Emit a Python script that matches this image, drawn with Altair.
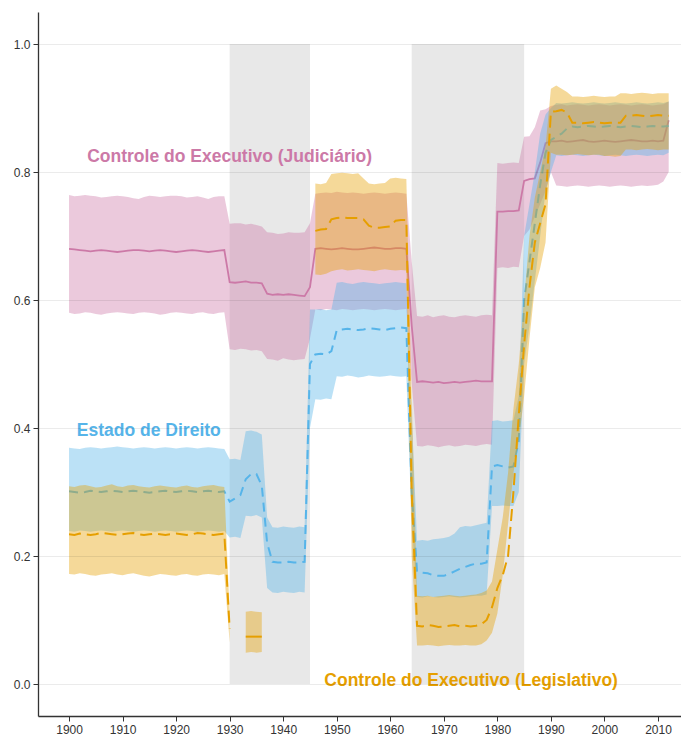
import altair as alt
import pandas as pd

years = list(range(1900, 2013))
tick_years = [1900, 1910, 1920, 1930, 1940, 1950, 1960, 1970, 1980, 1990, 2000, 2010]
tick_vals = [0.0, 0.2, 0.4, 0.6, 0.8, 1.0]

# periods shaded (authoritarian periods)
shade_start = [1930, 1964]
shade_end = [1945, 1985]

# ---- Controle do Executivo (Judiciário) ----
jud_mean = ([0.680, 0.679, 0.678, 0.677, 0.676, 0.677, 0.678, 0.677, 0.676, 0.675,
             0.676, 0.677, 0.678, 0.678, 0.677, 0.676, 0.677, 0.678, 0.677, 0.676,
             0.675, 0.676, 0.677, 0.678, 0.677, 0.676, 0.675, 0.676, 0.677, 0.678]
            + [0.628, 0.627, 0.628, 0.629, 0.627, 0.627, 0.626, 0.610, 0.608, 0.609,
               0.608, 0.609, 0.608, 0.607, 0.606, 0.620]
            + [0.680, 0.681, 0.680, 0.679, 0.680, 0.681, 0.680, 0.679, 0.679, 0.680,
               0.681, 0.682, 0.681, 0.680, 0.680, 0.681, 0.681, 0.680]
            + [0.560]
            + [0.472, 0.473, 0.472, 0.471, 0.472, 0.470, 0.471, 0.472, 0.471, 0.472,
               0.473, 0.474, 0.473, 0.473, 0.473]
            + [0.738, 0.738, 0.739, 0.739, 0.740, 0.786, 0.789, 0.790, 0.815, 0.845, 0.848]
            + [0.848, 0.849, 0.847, 0.848, 0.849, 0.850, 0.848, 0.847, 0.848, 0.849,
               0.848, 0.847, 0.848, 0.849, 0.850, 0.849, 0.848, 0.848, 0.849, 0.848, 0.849]
            + [0.881])
jud_hi = ([0.764, 0.762, 0.763, 0.764, 0.763, 0.762, 0.760, 0.761, 0.762, 0.763,
           0.762, 0.761, 0.759, 0.758, 0.761, 0.763, 0.762, 0.761, 0.762, 0.763,
           0.763, 0.762, 0.760, 0.761, 0.762, 0.760, 0.758, 0.761, 0.762, 0.762]
          + [0.719, 0.720, 0.720, 0.718, 0.719, 0.717, 0.715, 0.706, 0.705, 0.703,
             0.704, 0.706, 0.705, 0.705, 0.706, 0.720]
          + [0.766, 0.767, 0.768, 0.767, 0.769, 0.768, 0.767, 0.768, 0.767, 0.766,
             0.767, 0.768, 0.767, 0.766, 0.767, 0.768, 0.767, 0.766]
          + [0.660]
          + [0.575, 0.574, 0.576, 0.573, 0.575, 0.576, 0.574, 0.573, 0.575, 0.576,
             0.575, 0.574, 0.576, 0.577, 0.576]
          + [0.814, 0.813, 0.814, 0.815, 0.814, 0.855, 0.856, 0.870, 0.896, 0.898, 0.903]
          + [0.905, 0.906, 0.904, 0.905, 0.906, 0.905, 0.904, 0.905, 0.906, 0.905,
             0.904, 0.905, 0.906, 0.905, 0.904, 0.905, 0.906, 0.905, 0.904, 0.905, 0.906]
          + [0.910])
jud_lo = ([0.580, 0.578, 0.579, 0.581, 0.580, 0.578, 0.577, 0.579, 0.580, 0.581,
           0.580, 0.579, 0.578, 0.580, 0.581, 0.580, 0.579, 0.577, 0.578, 0.580,
           0.581, 0.580, 0.579, 0.578, 0.580, 0.581, 0.579, 0.578, 0.580, 0.581]
          + [0.523, 0.522, 0.524, 0.523, 0.521, 0.522, 0.520, 0.508, 0.507, 0.505,
             0.509, 0.507, 0.506, 0.507, 0.508, 0.540]
          + [0.585, 0.584, 0.586, 0.585, 0.584, 0.586, 0.585, 0.584, 0.585, 0.586,
             0.585, 0.584, 0.585, 0.586, 0.585, 0.584, 0.585, 0.586]
          + [0.470]
          + [0.372, 0.371, 0.373, 0.372, 0.370, 0.372, 0.373, 0.371, 0.372, 0.374,
             0.373, 0.372, 0.374, 0.375, 0.374]
          + [0.650, 0.651, 0.650, 0.652, 0.651, 0.700, 0.710, 0.730, 0.750, 0.770, 0.800]
          + [0.779, 0.778, 0.777, 0.778, 0.779, 0.778, 0.777, 0.778, 0.779, 0.778,
             0.777, 0.778, 0.779, 0.778, 0.777, 0.778, 0.779, 0.778, 0.779, 0.780, 0.785]
          + [0.800])

# ---- Estado de Direito ----
rol_mean = ([0.301, 0.300, 0.299, 0.300, 0.302, 0.301, 0.300, 0.301, 0.302, 0.301,
             0.300, 0.301, 0.302, 0.301, 0.300, 0.299, 0.300, 0.301, 0.302, 0.301,
             0.300, 0.301, 0.302, 0.301, 0.300, 0.301, 0.302, 0.301, 0.300, 0.301]
            + [0.285, 0.290, 0.295, 0.320, 0.328, 0.328, 0.310, 0.220, 0.191, 0.190,
               0.190, 0.191, 0.190, 0.190, 0.191, 0.500]
            + [0.515, 0.516, 0.515, 0.520, 0.553, 0.554, 0.555, 0.554, 0.553, 0.554,
               0.556, 0.555, 0.554, 0.553, 0.555, 0.556, 0.557, 0.556]
            + [0.300]
            + [0.175, 0.174, 0.173, 0.170, 0.169, 0.169, 0.172, 0.176, 0.180, 0.183,
               0.186, 0.188, 0.188, 0.190, 0.340]
            + [0.342, 0.340, 0.338, 0.340, 0.380, 0.600, 0.660, 0.720, 0.780, 0.830, 0.850]
            + [0.855, 0.860, 0.868, 0.871, 0.870, 0.871, 0.872, 0.871, 0.870, 0.871,
               0.872, 0.871, 0.870, 0.871, 0.872, 0.871, 0.870, 0.871, 0.872, 0.871, 0.871]
            + [0.872])
rol_hi = ([0.369, 0.368, 0.367, 0.369, 0.370, 0.369, 0.368, 0.369, 0.370, 0.371,
           0.370, 0.369, 0.368, 0.369, 0.370, 0.369, 0.368, 0.369, 0.370, 0.369,
           0.368, 0.369, 0.370, 0.369, 0.368, 0.369, 0.370, 0.369, 0.368, 0.367]
          + [0.351, 0.352, 0.350, 0.395, 0.396, 0.394, 0.390, 0.260, 0.245, 0.244,
             0.246, 0.245, 0.244, 0.246, 0.245, 0.585]
          + [0.585, 0.586, 0.584, 0.585, 0.627, 0.628, 0.626, 0.625, 0.627, 0.628,
             0.627, 0.626, 0.625, 0.626, 0.627, 0.628, 0.627, 0.626]
          + [0.420]
          + [0.224, 0.225, 0.224, 0.226, 0.227, 0.228, 0.230, 0.235, 0.245, 0.247,
             0.246, 0.248, 0.250, 0.252, 0.411]
          + [0.412, 0.410, 0.411, 0.412, 0.450, 0.700, 0.750, 0.800, 0.860, 0.890, 0.900]
          + [0.908, 0.907, 0.908, 0.909, 0.908, 0.907, 0.908, 0.909, 0.908, 0.907,
             0.908, 0.909, 0.908, 0.907, 0.908, 0.909, 0.908, 0.907, 0.908, 0.909, 0.908]
          + [0.910])
rol_lo = ([0.239, 0.238, 0.240, 0.239, 0.238, 0.239, 0.240, 0.239, 0.238, 0.239,
           0.240, 0.239, 0.238, 0.239, 0.240, 0.239, 0.238, 0.239, 0.240, 0.239,
           0.238, 0.239, 0.240, 0.239, 0.238, 0.239, 0.240, 0.239, 0.238, 0.239]
          + [0.229, 0.230, 0.228, 0.263, 0.262, 0.264, 0.260, 0.150, 0.143, 0.142,
             0.144, 0.143, 0.142, 0.144, 0.143, 0.400]
          + [0.445, 0.444, 0.446, 0.445, 0.481, 0.480, 0.482, 0.481, 0.479, 0.480,
             0.482, 0.481, 0.480, 0.481, 0.482, 0.481, 0.480, 0.481]
          + [0.250]
          + [0.136, 0.135, 0.137, 0.136, 0.135, 0.136, 0.137, 0.136, 0.135, 0.136,
             0.137, 0.138, 0.138, 0.140, 0.278]
          + [0.278, 0.279, 0.278, 0.278, 0.300, 0.500, 0.560, 0.630, 0.700, 0.770, 0.800]
          + [0.826, 0.825, 0.826, 0.827, 0.826, 0.825, 0.826, 0.827, 0.826, 0.825,
             0.826, 0.827, 0.826, 0.825, 0.826, 0.827, 0.826, 0.825, 0.826, 0.827, 0.826]
          + [0.830])

# ---- Controle do Executivo (Legislativo) ----
leg_mean = ([0.234, 0.233, 0.235, 0.234, 0.233, 0.234, 0.236, 0.235, 0.234, 0.233,
             0.234, 0.235, 0.236, 0.234, 0.233, 0.234, 0.235, 0.234, 0.233, 0.234,
             0.235, 0.234, 0.233, 0.234, 0.236, 0.235, 0.234, 0.233, 0.234, 0.235]
            + [0.086, None, None, 0.074, 0.074, 0.074, 0.074,
               None, None, None, None, None, None, None, None, None]
            + [0.708, 0.710, 0.711, 0.726, 0.728, 0.729, 0.728, 0.728, 0.728, 0.726,
               0.716, 0.713, 0.713, 0.714, 0.715, 0.724, 0.725, 0.725]
            + [0.300]
            + [0.091, 0.090, 0.092, 0.091, 0.089, 0.090, 0.091, 0.092, 0.090, 0.091,
               0.090, 0.091, 0.093, 0.100, 0.120]
            + [0.150, 0.170, 0.200, 0.300, 0.420, 0.530, 0.620, 0.690, 0.720, 0.750, 0.894]
            + [0.895, 0.897, 0.893, 0.877, 0.877, 0.876, 0.877, 0.878, 0.877, 0.876,
               0.877, 0.877, 0.877, 0.888, 0.888, 0.889, 0.888, 0.887, 0.888, 0.889, 0.888]
            + [0.888])
leg_hi = ([0.309, 0.308, 0.310, 0.311, 0.309, 0.307, 0.308, 0.310, 0.312, 0.309,
           0.308, 0.310, 0.311, 0.309, 0.308, 0.307, 0.309, 0.310, 0.309, 0.308,
           0.307, 0.309, 0.310, 0.308, 0.307, 0.309, 0.310, 0.311, 0.309, 0.308]
          + [0.110, None, None, 0.113, 0.114, 0.113, 0.112,
             None, None, None, None, None, None, None, None, None]
          + [0.782, 0.781, 0.783, 0.797, 0.798, 0.799, 0.798, 0.797, 0.798, 0.790,
             0.782, 0.781, 0.782, 0.783, 0.790, 0.791, 0.790, 0.789]
          + [0.450]
          + [0.138, 0.137, 0.138, 0.136, 0.137, 0.138, 0.139, 0.138, 0.137, 0.138,
             0.139, 0.140, 0.142, 0.146, 0.160]
          + [0.210, 0.260, 0.330, 0.430, 0.500, 0.600, 0.700, 0.760, 0.800, 0.840, 0.930]
          + [0.935, 0.930, 0.925, 0.918, 0.918, 0.917, 0.918, 0.919, 0.918, 0.917,
             0.918, 0.918, 0.923, 0.923, 0.922, 0.923, 0.924, 0.923, 0.922, 0.923, 0.923]
          + [0.923])
leg_lo = ([0.172, 0.171, 0.173, 0.172, 0.170, 0.169, 0.171, 0.172, 0.173, 0.171,
           0.170, 0.172, 0.173, 0.171, 0.169, 0.168, 0.170, 0.172, 0.171, 0.170,
           0.169, 0.171, 0.172, 0.170, 0.169, 0.171, 0.172, 0.171, 0.170, 0.172]
          + [0.065, None, None, 0.049, 0.050, 0.049, 0.050,
             None, None, None, None, None, None, None, None, None]
          + [0.640, 0.639, 0.641, 0.645, 0.647, 0.648, 0.646, 0.647, 0.648, 0.647,
             0.646, 0.645, 0.647, 0.648, 0.647, 0.646, 0.647, 0.646]
          + [0.200]
          + [0.060, 0.060, 0.061, 0.060, 0.059, 0.060, 0.061, 0.060, 0.060, 0.061,
             0.060, 0.060, 0.062, 0.068, 0.080]
          + [0.110, 0.170, 0.250, 0.330, 0.380, 0.450, 0.540, 0.620, 0.650, 0.690, 0.830]
          + [0.827, 0.827, 0.826, 0.827, 0.828, 0.827, 0.826, 0.827, 0.827, 0.825,
             0.825, 0.824, 0.825, 0.835, 0.835, 0.834, 0.835, 0.836, 0.835, 0.834, 0.835]
          + [0.835])

series_names = ["Controle do Executivo (Judiciário)", "Estado de Direito",
                "Controle do Executivo (Legislativo)"]
series_colors = ["#CC79A7", "#56B4E9", "#E69F00"]

label_x = [1930.0, 1914.9, 1975.1]
label_y = [0.824, 0.395, 0.004]

for arr in [jud_mean, jud_hi, jud_lo, rol_mean, rol_hi, rol_lo, leg_mean, leg_hi, leg_lo]:
    assert len(arr) == len(years), len(arr)


def build(name, mean, lo, hi):
    rows = []
    seg = 0
    gap = True
    for yr, m, l, h in zip(years, mean, lo, hi):
        if m is None:
            gap = True
            continue
        if gap:
            seg += 1
            gap = False
        rows.append({"series": name, "year": yr, "mean": m, "lo": l, "hi": h, "seg": seg})
    return pd.DataFrame(rows)


dfs = [build(series_names[0], jud_mean, jud_lo, jud_hi),
       build(series_names[1], rol_mean, rol_lo, rol_hi),
       build(series_names[2], leg_mean, leg_lo, leg_hi)]

xs = alt.Scale(domain=[1894.2, 2014.3], nice=False, zero=False)
ys = alt.Scale(domain=[-0.05, 1.05], nice=False, zero=False)
xax = alt.Axis(values=tick_years, format="d", title=None, grid=False)
yax = alt.Axis(values=tick_vals, format=".1f", title=None, grid=True, zindex=1,
               gridColor="#000000", gridOpacity=0.08, gridWidth=1)

shade_df = pd.DataFrame({"start": shade_start, "end": shade_end})
shade = alt.Chart(shade_df).mark_rect(color="#E8E8E8").encode(
    x=alt.X("start:Q", scale=xs, axis=xax),
    x2="end:Q",
    y=alt.Y(datum=0, scale=ys, axis=yax),
    y2=alt.Y2(datum=1),
)

layers = [shade]
dashes = [None, [9, 6], [12, 6]]
widths = [1.8, 2.0, 2.0]
for df, col, dash, w in zip(dfs, series_colors, dashes, widths):
    base = alt.Chart(df)
    band = base.mark_area(color=col, opacity=0.4).encode(
        x=alt.X("year:Q", scale=xs, axis=xax),
        y=alt.Y("lo:Q", scale=ys, axis=yax),
        y2="hi:Q",
        detail="seg:N",
    )
    layers.append(band)
    if dash is None:
        ln = base.mark_line(color=col, strokeWidth=w).encode(
            x=alt.X("year:Q", scale=xs, axis=xax),
            y=alt.Y("mean:Q", scale=ys, axis=yax),
            detail="seg:N",
        )
        layers.append(ln)
    else:
        ln = base.transform_filter("datum.seg != 2").mark_line(
            color=col, strokeWidth=w, strokeDash=dash).encode(
            x=alt.X("year:Q", scale=xs, axis=xax),
            y=alt.Y("mean:Q", scale=ys, axis=yax),
            detail="seg:N",
        )
        ln2 = base.transform_filter("datum.seg == 2").mark_line(
            color=col, strokeWidth=w).encode(
            x=alt.X("year:Q", scale=xs, axis=xax),
            y=alt.Y("mean:Q", scale=ys, axis=yax),
            detail="seg:N",
        )
        layers.append(ln)
        layers.append(ln2)

lab_df = pd.DataFrame({"label": series_names, "x": label_x, "y": label_y,
                       "color": series_colors})
labels = alt.Chart(lab_df).mark_text(
    font="Liberation Sans", fontSize=17.5, fontWeight="bold", align="center",
    baseline="middle").encode(
    x=alt.X("x:Q", scale=xs, axis=xax),
    y=alt.Y("y:Q", scale=ys, axis=yax),
    text="label:N",
    color=alt.Color("color:N", scale=None),
)
layers.append(labels)

chart = alt.layer(*layers).properties(
    width=643, height=704,
    autosize=alt.AutoSizeParams(type="none"),
    padding={"left": 30, "top": 4, "right": 0, "bottom": 22},
).configure_view(stroke=None).configure_axis(
    labelFont="Liberation Sans", labelFontSize=12, labelColor="#333333",
    domainColor="#333333", domainWidth=1.3, tickColor="#333333", tickSize=5,
    tickWidth=1, labelPadding=3,
)

chart.save("out.html", embed_options={"renderer": "svg", "actions": False})
